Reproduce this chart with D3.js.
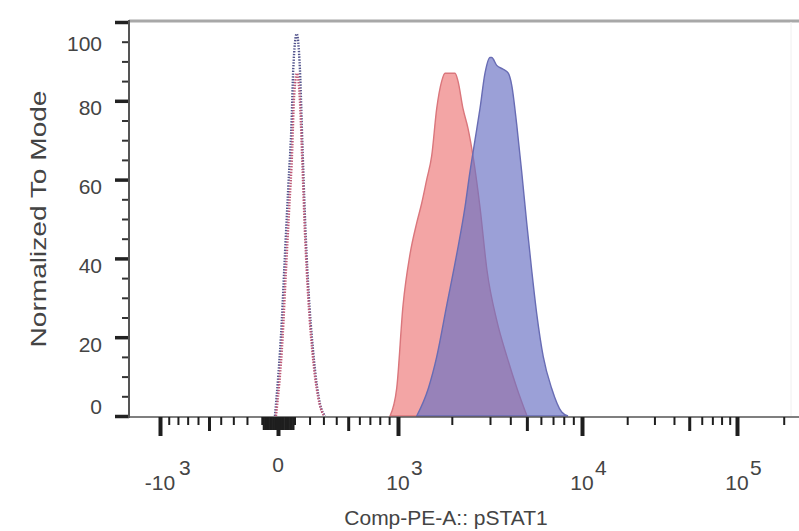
<!DOCTYPE html>
<html>
<head>
<meta charset="utf-8">
<script src="https://cdn.jsdelivr.net/npm/d3@7"></script>
<style>
  body { margin: 0; background: #fff; }
  svg { display: block; font-family: "Liberation Sans", Arial, sans-serif; }
</style>
</head>
<body>
<div class="canvas"></div>
<script>
// histogram data: intensity (Comp-PE-A) and % of mode
const ctrlBlueX = [-18, 22, 41, 61, 82, 92, 114, 135, 153, 169, 191, 226, 275, 312]
const ctrlBlueY = [0, 24, 41, 58, 75, 88, 97, 88, 67, 50, 33, 16, 3, 0]

const ctrlRedX = [-12, 27, 46, 66, 86, 96, 116, 135, 153, 169, 191, 226, 272, 305]
const ctrlRedY = [0, 20, 36, 52, 68, 80, 87, 80, 62, 46, 30, 14, 3, 0]

const redX = [910, 985, 1077, 1189, 1303, 1391, 1483, 1578, 1677, 1780, 1850, 2073, 2143, 2264, 2389, 2519, 2709, 2910, 3320, 3822, 4383, 5008]
const redY = [0, 7, 28, 41, 49, 54, 60, 66, 78, 85, 87, 87, 85, 78, 73, 66, 53, 37, 24, 15, 7, 0]

const blueX = [1303, 1513, 1677, 1886, 2112, 2313, 2440, 2572, 2709, 2852, 3000, 3076, 3306, 3630, 3891, 4078, 4365, 4668, 4989, 5327, 5685, 6188, 6883, 7799, 8431]
const blueY = [0, 7, 15, 28, 41, 53, 62, 70, 78, 87, 91, 91, 89, 88, 87, 84, 74, 62, 49, 37, 26, 15, 7, 1, 0]

// axis ticks
const yMajor = [0, 20, 40, 60, 80, 100]
const yMinor = [5, 10, 15, 25, 30, 35, 45, 50, 55, 65, 70, 75, 85, 90, 95]
const xMajor = [-1000, 0, 1000, 10000, 100000]
const xBase = ['-10', '0', '10', '10', '10']
const xExp = ['3', '', '3', '4', '5']
const xMid = [-500, 500, 5000, 50000]
const xMinor = [-900, -800, -700, -600, -400, -300, -200, -100, 100, 200, 300, 400, 600, 700, 800, 900,
    2000, 3000, 4000, 6000, 7000, 8000, 9000, 20000, 30000, 40000, 60000, 70000, 80000, 90000, 200000]
const xNearZero = [-90, -80, -70, -60, -50, -40, -30, -20, -10, 10, 20, 30, 40, 50, 60, 70, 80, 90]

const dims = { width: 799, height: 531 }
const plot = { left: 129, right: 799, top: 22, bottom: 416 }

const svg = d3.select('.canvas')
    .append('svg')
    .attr('width', dims.width)
    .attr('height', dims.height)

// biexponential-like x scale, calibrated on the axis decades
const x = d3.scaleSymlog()
    .constant(1000)
    .domain([-1000, 0, 1000, 3000, 10000, 100000, 262144])
    .range([160, 278, 398, 490, 582, 737, 802])

const y = d3.scaleLinear()
    .domain([0, 100])
    .range([plot.bottom, plot.top])

const zip = (xs, ys) => xs.map((v, i) => [v, ys[i]])

const area = d3.area()
    .x(d => x(d[0]))
    .y0(y(0))
    .y1(d => y(d[1]))
    .curve(d3.curveMonotoneX)

const line = d3.line()
    .x(d => x(d[0]))
    .y(d => y(d[1]))
    .curve(d3.curveMonotoneX)

// frame
svg.append('line')
    .attr('x1', plot.left).attr('x2', plot.right)
    .attr('y1', plot.top - 1).attr('y2', plot.top - 1)
    .attr('stroke', '#a8a8a8').attr('stroke-width', 3)

svg.append('line')
    .attr('x1', 791).attr('x2', 791)
    .attr('y1', plot.top).attr('y2', plot.bottom)
    .attr('stroke', '#f0f0f0').attr('stroke-width', 1)

// filled histograms
svg.append('path')
    .datum(zip(redX, redY))
    .attr('d', area)
    .attr('fill', 'rgb(235,105,105)')
    .attr('fill-opacity', 0.6)
    .attr('stroke', 'rgb(218,118,124)')
    .attr('stroke-width', 1.4)

svg.append('path')
    .datum(zip(blueX, blueY))
    .attr('d', area)
    .attr('fill', 'rgb(106,113,195)')
    .attr('fill-opacity', 0.67)
    .attr('stroke', 'rgb(104,108,180)')
    .attr('stroke-width', 1.4)

// dotted control histograms
svg.append('path')
    .datum(zip(ctrlBlueX, ctrlBlueY))
    .attr('d', line)
    .attr('fill', 'none')
    .attr('stroke', '#52538c')
    .attr('stroke-width', 2.4)
    .attr('stroke-dasharray', '1.4 1.4')

svg.append('path')
    .datum(zip(ctrlRedX, ctrlRedY))
    .attr('d', line)
    .attr('fill', 'none')
    .attr('stroke', '#bd5876')
    .attr('stroke-width', 2.4)
    .attr('stroke-dasharray', '1.4 1.4')

// y axis
const yAxisG = svg.append('g').attr('transform', `translate(${plot.left}, 0)`)
yAxisG.append('g')
    .call(d3.axisLeft(y).tickValues(yMinor).tickSize(7).tickFormat(''))
    .call(g => g.selectAll('line').attr('stroke', '#333').attr('stroke-width', 2))
yAxisG.append('g')
    .call(d3.axisLeft(y).tickValues(yMajor).tickSize(14).tickFormat(''))
    .call(g => g.selectAll('line').attr('stroke', '#222').attr('stroke-width', 3.5))
yAxisG.selectAll('.domain').remove()
yAxisG.append('line')
    .attr('x1', 0).attr('x2', 0)
    .attr('y1', plot.top - 2).attr('y2', plot.bottom + 2)
    .attr('stroke', '#555').attr('stroke-width', 2)

const labelY = v => v === 100 ? y(v) + 21 : v === 0 ? y(v) - 10 : y(v) + 7
svg.append('g').selectAll('text')
    .data(yMajor)
    .enter().append('text')
    .attr('x', 102)
    .attr('y', d => labelY(d) + 7.5)
    .attr('text-anchor', 'end')
    .attr('font-size', 21)
    .attr('fill', '#444')
    .text(d => d)

svg.append('text')
    .attr('transform', 'translate(46, 219) rotate(-90)')
    .attr('text-anchor', 'middle')
    .attr('font-size', 22)
    .attr('fill', '#444')
    .attr('textLength', 257)
    .attr('lengthAdjust', 'spacingAndGlyphs')
    .text('Normalized To Mode')

// x axis
const axisY = plot.bottom + 1
svg.append('line')
    .attr('x1', plot.left).attr('x2', plot.right)
    .attr('y1', axisY).attr('y2', axisY)
    .attr('stroke', '#555').attr('stroke-width', 1.6)

const xAxisG = svg.append('g').attr('transform', `translate(0, ${axisY})`)
const tickLayer = (values, size, width) => {
    xAxisG.append('g')
        .call(d3.axisBottom(x).tickValues(values).tickSize(size).tickFormat(''))
        .call(g => g.select('.domain').remove())
        .call(g => g.selectAll('line').attr('stroke', '#1e1e1e').attr('stroke-width', width))
}
tickLayer(xMinor, 8, 2)
tickLayer(xNearZero, 13, 2.2)
tickLayer(xMid, 14, 3)
tickLayer(xMajor, 19, 4)

svg.append('g').selectAll('text')
    .data(xMajor)
    .enter().append('text')
    .attr('x', d => x(d))
    .attr('y', d => d === 0 ? 472 : 490)
    .attr('text-anchor', 'middle')
    .attr('font-size', 21)
    .attr('fill', '#444')
    .text((d, i) => xBase[i])

svg.append('g').selectAll('text')
    .data(xMajor.filter((d, i) => xExp[i] !== ''))
    .enter().append('text')
    .attr('x', d => x(d) + (d < 0 ? 19 : 13))
    .attr('y', 475)
    .attr('font-size', 21)
    .attr('fill', '#444')
    .text(d => xExp[xMajor.indexOf(d)])

svg.append('text')
    .attr('x', 446)
    .attr('y', 525)
    .attr('text-anchor', 'middle')
    .attr('font-size', 21)
    .attr('fill', '#444')
    .text('Comp-PE-A:: pSTAT1')
</script>
</body>
</html>
